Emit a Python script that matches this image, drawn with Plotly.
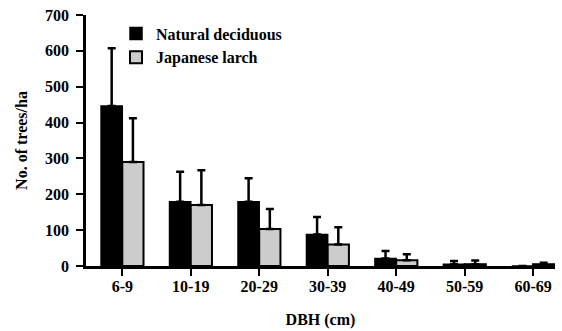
import plotly.graph_objects as go

categories = ["6-9", "10-19", "20-29", "30-39", "40-49", "50-59", "60-69"]
natural_vals = [446, 179, 179, 88, 21, 5, 0]
natural_err = [161, 84, 66, 49, 21, 9, 0]
larch_vals = [290, 170, 103, 60, 16, 5, 5]
larch_err = [122, 97, 56, 48, 17, 10, 4]
y_ticks = [0, 100, 200, 300, 400, 500, 600, 700]

font_family = "Liberation Serif"

fig = go.Figure()
fig.add_trace(go.Bar(
    x=categories, y=natural_vals, name="<b>Natural deciduous</b>",
    marker=dict(color="black", line=dict(color="black", width=1.5)),
    error_y=dict(type="data", array=natural_err, arrayminus=[0]*7, symmetric=False,
                 color="black", thickness=2.5, width=4),
))
fig.add_trace(go.Bar(
    x=categories, y=larch_vals, name="<b>Japanese larch</b>",
    marker=dict(color="#cccccc", line=dict(color="black", width=2)),
    error_y=dict(type="data", array=larch_err, arrayminus=[0]*7, symmetric=False,
                 color="black", thickness=2.5, width=4),
))

fig.update_layout(
    width=562, height=331,
    margin=dict(l=86, r=7, t=15, b=65, autoexpand=False),
    paper_bgcolor="white", plot_bgcolor="white",
    barmode="group", bargap=0.38, bargroupgap=0,
    font=dict(family=font_family, size=16, color="black"),
    showlegend=True,
    legend=dict(x=0.064, y=0.994, xanchor="left", yanchor="top",
                bgcolor="rgba(0,0,0,0)", itemwidth=30, tracegroupgap=0,
                font=dict(size=16, family=font_family)),
    xaxis=dict(
        type="category", range=[-0.53, 6.32], automargin=False,
        tickvals=categories, ticktext=["<b>%s</b>" % c for c in categories],
        showline=True, linecolor="black", linewidth=2.5,
        ticks="outside", ticklen=7, tickwidth=2, tickcolor="black",
        ticklabelstandoff=-3,
        showgrid=False, zeroline=False,
        title=dict(text="<b>DBH (cm)</b>", standoff=20, font=dict(size=16)),
    ),
    yaxis=dict(
        range=[0, 700], automargin=False,
        tickvals=y_ticks, ticktext=["<b>%d</b>" % v for v in y_ticks],
        showline=True, linecolor="black", linewidth=2.5,
        ticks="outside", ticklen=7, tickwidth=2, tickcolor="black",
        ticklabelstandoff=4,
        showgrid=False, zeroline=False,
        title=dict(text="<b>No. of trees/ha</b>", standoff=14, font=dict(size=16)),
    ),
)

fig.write_html("out.html", config={"displayModeBar": False},
               post_script="document.body.style.margin='0';")
